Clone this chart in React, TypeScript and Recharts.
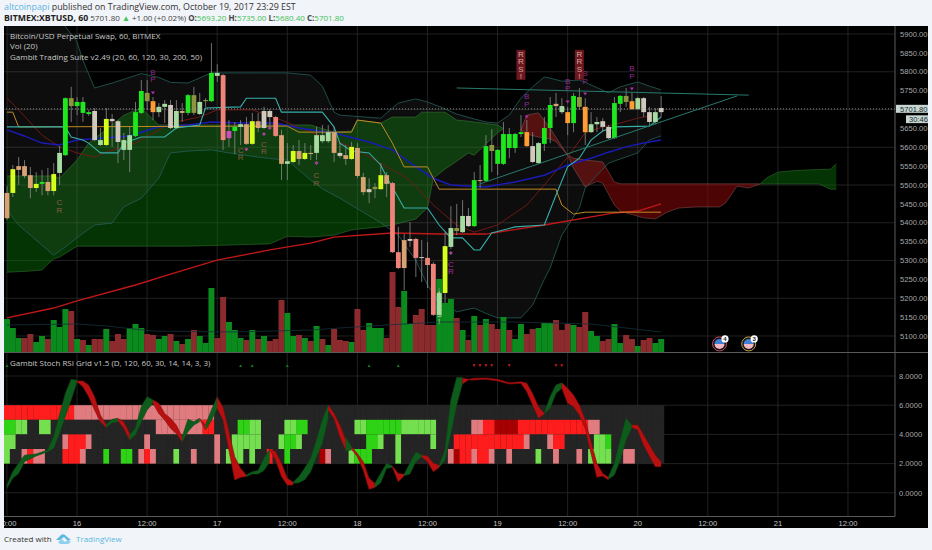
import { Area, Bar, CartesianGrid, ComposedChart, Line, ReferenceLine, XAxis, YAxis } from 'recharts';

// hours since Oct 16 00:00, one candle per hour
const hours = Array.from({ length: 152 }, (_, i) => i - 12);
const timeTicks = [-12, 0, 12, 24, 36, 48, 60, 72, 84, 96, 108, 120, 132];
const timeLabels = ['00:00', '16', '12:00', '17', '12:00', '18', '12:00', '19', '12:00', '20', '12:00', '21', '12:00'];
const priceTicks = [5100, 5150, 5200, 5250, 5300, 5350, 5400, 5450, 5500, 5550, 5600, 5650, 5700, 5750, 5800, 5850, 5900];
const lastPrice = 5701.8;
const stochTicks = [0, 2, 4, 6, 8];

const candleKinds = [
  'tan', 'yel', 'tan', 'tan', 'tan', 'yel', 'lime', 'tan', 'yel', 'pale',
  'lime', 'olive', 'lime', 'lime', 'lime', 'grey', 'pale', 'yel', 'grey', 'grey',
  'pale', 'pale', 'lime', 'lime', 'olive', 'orange', 'pale', 'pale', 'grey', 'pale',
  'tan', 'lime', 'olive', 'pale', 'olive', 'lime', 'pale', 'salmon', 'magenta', 'lime',
  'pale', 'tan', 'yel', 'tan', 'grey', 'grey', 'salmon', 'tan', 'pale', 'yel',
  'tan', 'yel', 'tan', 'pale', 'pale', 'pale', 'tan', 'grey', 'tan', 'yel',
  'tan', 'tan', 'grey', 'olive', 'yel', 'tan', 'salmon', 'salmon', 'tan', 'grey',
  'salmon', 'grey', 'salmon', 'salmon', 'pale', 'yel', 'pale', 'olive', 'pale', 'grey',
  'lime', 'tan', 'lime', 'olive', 'lime', 'lime', 'lime', 'lime', 'lime', 'orange',
  'grey', 'pale', 'lime', 'lime', 'tan', 'pale', 'orange', 'lime', 'olive', 'orange',
  'pale', 'pale', 'grey', 'grey', 'lime', 'lime', 'olive', 'orange', 'pale', 'grey',
  'grey', 'pale', 'grey',
];
const bodyTops = [
  5479, 5542, 5550, 5550, 5526, 5503, 5508, 5508, 5529, 5585,
  5730, 5730, 5720, 5720, 5693, 5696, 5619, 5675, 5675, 5669,
  5619, 5632, 5693, 5749, 5744, 5722, 5707, 5715, 5712, 5696,
  5696, 5738, 5738, 5720, 5725, 5797, 5797, 5791, 5643, 5654,
  5661, 5661, 5669, 5669, 5696, 5696, 5680, 5632, 5563, 5590,
  5590, 5585, 5585, 5632, 5632, 5640, 5640, 5585, 5579, 5601,
  5598, 5521, 5489, 5495, 5526, 5526, 5505, 5322, 5354, 5357,
  5357, 5309, 5307, 5291, 5214, 5338, 5386, 5386, 5418, 5418,
  5513, 5513, 5603, 5606, 5593, 5635, 5635, 5635, 5640, 5640,
  5603, 5611, 5651, 5712, 5715, 5709, 5693, 5736, 5733, 5707,
  5661, 5667, 5669, 5654, 5717, 5736, 5736, 5722, 5730, 5730,
  5693, 5693, 5704,
];
const bodyBottoms = [
  5412, 5479, 5540, 5524, 5492, 5492, 5503, 5484, 5484, 5532,
  5579, 5709, 5709, 5691, 5688, 5619, 5606, 5606, 5669, 5614,
  5593, 5593, 5630, 5691, 5722, 5693, 5693, 5707, 5651, 5651,
  5691, 5691, 5691, 5688, 5722, 5722, 5789, 5619, 5624, 5643,
  5654, 5609, 5609, 5651, 5651, 5680, 5630, 5556, 5556, 5561,
  5569, 5569, 5582, 5585, 5616, 5616, 5585, 5577, 5569, 5569,
  5524, 5481, 5481, 5489, 5489, 5503, 5322, 5280, 5280, 5352,
  5307, 5307, 5288, 5156, 5156, 5214, 5336, 5378, 5375, 5391,
  5391, 5511, 5511, 5590, 5556, 5556, 5598, 5598, 5635, 5603,
  5561, 5558, 5609, 5651, 5709, 5693, 5664, 5664, 5707, 5640,
  5640, 5661, 5654, 5624, 5624, 5715, 5720, 5701, 5701, 5693,
  5667, 5667, 5693,
];
const highs = [
  5497, 5553, 5574, 5566, 5548, 5534, 5540, 5545, 5558, 5603,
  5732, 5760, 5733, 5733, 5699, 5704, 5651, 5704, 5688, 5672,
  5638, 5654, 5720, 5778, 5778, 5733, 5717, 5725, 5725, 5725,
  5717, 5741, 5760, 5744, 5730, 5876, 5820, 5794, 5672, 5667,
  5672, 5680, 5691, 5691, 5707, 5701, 5683, 5646, 5611, 5606,
  5619, 5611, 5606, 5654, 5659, 5659, 5654, 5611, 5606, 5614,
  5611, 5532, 5518, 5505, 5558, 5534, 5508, 5389, 5370, 5402,
  5360, 5354, 5349, 5296, 5227, 5375, 5444, 5450, 5460, 5439,
  5534, 5553, 5632, 5648, 5595, 5667, 5651, 5638, 5685, 5672,
  5640, 5614, 5680, 5733, 5744, 5730, 5707, 5744, 5757, 5730,
  5693, 5680, 5677, 5659, 5733, 5738, 5757, 5744, 5733, 5733,
  5707, 5704, 5736,
];
const lows = [
  5407, 5468, 5500, 5518, 5465, 5481, 5473, 5473, 5473, 5500,
  5577, 5667, 5685, 5667, 5683, 5616, 5603, 5603, 5601, 5558,
  5566, 5534, 5627, 5688, 5699, 5672, 5680, 5664, 5648, 5648,
  5667, 5685, 5685, 5685, 5707, 5720, 5773, 5593, 5601, 5582,
  5606, 5606, 5606, 5640, 5648, 5654, 5627, 5513, 5513, 5558,
  5553, 5566, 5566, 5566, 5611, 5611, 5561, 5571, 5553, 5566,
  5518, 5473, 5452, 5465, 5487, 5468, 5320, 5277, 5222, 5336,
  5256, 5243, 5227, 5153, 5148, 5187, 5330, 5367, 5373, 5389,
  5389, 5492, 5508, 5534, 5526, 5553, 5571, 5585, 5627, 5601,
  5558, 5556, 5590, 5611, 5680, 5688, 5632, 5640, 5699, 5606,
  5638, 5640, 5640, 5622, 5622, 5693, 5707, 5699, 5699, 5680,
  5659, 5661, 5680,
];
const volumes = [
  33, 24, 14, 14, 18, 10, 16, 13, 32, 25,
  43, 41, 13, 12, 7, 13, 13, 23, 11, 18,
  13, 24, 28, 24, 18, 17, 13, 16, 18, 11,
  8, 13, 22, 16, 9, 64, 14, 55, 30, 22,
  14, 12, 22, 13, 16, 11, 13, 52, 39, 16,
  17, 14, 11, 26, 13, 7, 23, 12, 11, 10,
  43, 22, 29, 24, 24, 14, 80, 45, 61, 28,
  37, 43, 27, 27, 73, 49, 53, 34, 22, 12,
  36, 27, 33, 28, 23, 35, 22, 13, 28, 18,
  23, 24, 29, 29, 32, 22, 28, 27, 25, 40,
  21, 16, 11, 13, 28, 9, 17, 13, 6, 12,
  14, 9, 13,
];
const volumeSides = 'uuudduuduu' + 'udududdudd' + 'duuudduudu' + 'duduuudduu' + 'udududdduu' + 'dudududddu'
  + 'dduuuddduu' + 'dddduuudud' + 'ududduduud' + 'duuudddudd' + 'uudduuddud' + 'duu';

const volumeAverage = [[-12, 27], [0, 28], [5, 26], [13, 21], [27, 20], [40, 22], [50, 26], [62, 30], [75, 30], [88, 28], [100, 20]];

// ichimoku cloud: hour, upper, lower
const cloudGreenLeft = [
  [-12, 5524, 5269], [-8, 5524, 5272], [-6, 5524, 5275], [-5, 5524, 5291], [-4, 5524, 5304], [-3, 5518, 5309],
  [0, 5566, 5338], [2, 5611, 5338], [6, 5659, 5338], [8, 5685, 5338], [11, 5704, 5338], [14, 5659, 5338],
  [19, 5659, 5338], [33, 5659, 5344], [36, 5659, 5364], [40, 5659, 5362], [44, 5640, 5367], [47, 5643, 5381],
  [48, 5672, 5383], [52, 5664, 5389], [54, 5680, 5394], [58, 5680, 5410], [59, 5693, 5425], [60, 5693, 5439],
  [61, 5693, 5518], [63, 5693, 5542], [65, 5672, 5563], [67, 5669, 5585], [68, 5667, 5579], [72, 5659, 5638], [73, 5650, 5650],
];
const cloudRed = [
  [76, 5646, 5646], [77, 5685, 5635], [79, 5691, 5627], [81, 5651, 5622], [82, 5626, 5615], [84, 5579, 5579],
  [85, 5571, 5545], [87, 5566, 5495], [89, 5563, 5510], [90, 5561, 5505], [92, 5508, 5447], [93, 5503, 5431],
  [97, 5503, 5413], [99, 5503, 5410], [101, 5503, 5428], [103, 5503, 5439], [106, 5503, 5442], [110, 5503, 5442],
  [111, 5503, 5452], [113, 5503, 5497], [115, 5503, 5492], [117, 5503, 5503],
];
const cloudGreenRight = [
  [117, 5503, 5503], [118, 5518, 5503], [120, 5534, 5503], [122, 5537, 5503], [125, 5540, 5503], [127, 5541, 5503], [129, 5542, 5489], [130, 5556, 5489],
];
// bollinger band: hour, upper, lower
const bollinger = [
  [-12, 5950, 5434], [-10, 5950, 5394], [-4, 5950, 5314], [-2, 5920, 5336], [0, 5879, 5360], [1, 5831, 5372],
  [3, 5757, 5394], [6, 5770, 5399], [8, 5780, 5442], [11, 5795, 5465], [14, 5785, 5518], [16, 5772, 5585],
  [19, 5770, 5590], [23, 5797, 5593], [26, 5797, 5585], [31, 5797, 5574], [33, 5797, 5570], [36, 5797, 5566],
  [40, 5791, 5513], [42, 5762, 5490], [44, 5693, 5473], [45, 5685, 5465], [52, 5677, 5400], [55, 5717, 5367],
  [58, 5728, 5300], [60, 5720, 5235], [62, 5708, 5190], [65, 5688, 5164], [68, 5675, 5174], [70, 5667, 5160],
  [72, 5664, 5148], [74, 5685, 5148], [76, 5730, 5148], [78, 5760, 5182], [80, 5786, 5250], [81, 5783, 5280],
  [83, 5775, 5367], [86, 5778, 5439], [87, 5772, 5492], [91, 5744, 5558], [93, 5760, 5569], [96, 5773, 5585],
  [98, 5762, 5619], [100, 5752, 5630],
];
const cyanLine = [
  [-12, 5654], [-2, 5654], [-1, 5627], [1, 5619], [2, 5611], [4, 5585], [7, 5585], [8, 5611], [11, 5627], [15, 5627],
  [17, 5651], [21, 5659], [22, 5704], [28, 5707], [29, 5730], [34, 5730], [35, 5693], [42, 5693], [44, 5654], [45, 5611],
  [47, 5590], [50, 5585], [52, 5553], [53, 5521], [56, 5439], [60, 5439], [62, 5394], [64, 5360], [66, 5360], [68, 5328],
  [69, 5328], [71, 5373], [75, 5389], [80, 5394], [82, 5473], [84, 5548], [86, 5571], [88, 5619], [90, 5643], [92, 5654],
  [98, 5656], [100, 5680],
];
const orangeLine = [
  [-12, 5693], [-11, 5693], [-10, 5654], [36, 5656], [38, 5640], [47, 5640], [48, 5672], [52, 5664], [54, 5611], [56, 5548],
  [60, 5548], [61, 5518], [62, 5489], [82, 5489], [83, 5447], [85, 5423], [87, 5428], [100, 5428],
];
const blueLine = [
  [-12, 5646], [-9, 5630], [-6, 5611], [-3, 5606], [0, 5619], [4, 5624], [9, 5630], [14, 5654], [19, 5659], [23, 5667],
  [28, 5664], [34, 5664], [38, 5651], [44, 5638], [50, 5614], [54, 5593], [58, 5548], [61, 5518], [64, 5500], [70, 5495],
  [75, 5508], [80, 5526], [84, 5553], [88, 5571], [91, 5587], [94, 5601], [97, 5611], [100, 5619],
];
const darkRedLine = [
  [-12, 5730], [-10, 5699], [-6, 5632], [-3, 5601], [0, 5585], [3, 5574], [5, 5587], [10, 5611], [16, 5664], [21, 5680],
  [24, 5699], [30, 5699], [35, 5672], [40, 5640], [47, 5601], [54, 5540], [57, 5513], [61, 5447], [65, 5394], [68, 5375],
  [72, 5394], [77, 5447], [81, 5518], [84, 5574], [87, 5638], [90, 5654], [93, 5664], [96, 5677], [99, 5685],
];
const redLine = [
  [-12, 5148], [-4, 5174], [0, 5193], [10, 5235], [16, 5264], [24, 5301], [33, 5328], [40, 5346], [44, 5362], [54, 5373],
  [62, 5370], [70, 5370], [80, 5394], [92, 5426], [96, 5431], [100, 5450],
];
const trendTop = [[65, 5757], [115, 5738]];
const trendRising = [[69, 5503], [113, 5736]];

const bpSignals = [[13, 5744], [77, 5680], [84, 5720], [87, 5741], [95, 5754]];
const crSignals = [[-3, 5447], [28, 5585], [32, 5601], [41, 5518]];
const crStrong = [[64, 5283]];
const smallMarks = [[29, 5595], [32, 5635], [33, 5651], [41, 5558], [64, 5320]];
const rrsiRed = [[76, 5858], [86, 5858]];
const rrsiGreen = [[62, 5216]];
const eventsRed = [[110, 5079]];
const eventsGold = [[115, 5079]];

// stoch grid, one char per hour from -12 to 100
const gridRow1 = 'rrrrrrrrrrrr' + 'pppppppppppppppppppppppp' + '.'.repeat(77);
const gridRow2 = 'ggll..ll' + '..................' + 'pppppppp' + 'rr' + '....' + 'ggll' + '....' + 'llgg' + '........' + 'llggggggllllll' + '......' + 'pprrdddd' + 'rrrrrrrrrrrr' + 'pp' + '...........';
const gridRow3 = 'll........' + 'p' + 'rrr' + 'p' + '.........' + 'p' + '...........' + 'p' + '..' + 'lllll' + '...' + 'lggl' + '...........' + 'ggl..l' + '.....' + 'l' + '...' + 'rrrrrrrrrrrr' + 'p' + '...' + 'p' + 'rr' + '.....' + 'llg' + '.........';
const gridRow4 = 'l..prpp...rrrp...g..gg.prp...l..p...p.lll.l..r..g.....dp...lggg....l........pdrrprrp..p....l..p...p.llll..pp.....';

// stoch ribbon pieces: hour, upper, lower. Colours alternate, green first.
const ribbonPieces = [
  [[-12, 0.53, 0.31], [-11, 1.45, 1.0], [-10, 2.02, 1.33], [-9, 2.57, 2.13], [-7, 2.66, 2.52], [-5, 2.93, 2.82], [-4, 3.84, 3.05], [-3, 5.33, 4.07], [-2, 6.81, 5.22], [-1, 7.77, 6.36], [0, 7.71, 7.61]],
  [[0, 7.66, 7.61], [1, 7.66, 7.27], [2, 7.38, 6.58], [3, 6.58, 5.67], [4, 5.33, 4.87], [5, 4.64, 4.48]],
  [[5, 4.64, 4.48], [6, 5.03, 4.8], [7, 5.1, 4.87]],
  [[7, 5.1, 4.94], [8, 4.87, 4.42], [9, 4.07, 3.62]],
  [[9, 3.96, 3.62], [10, 4.42, 3.96], [11, 5.9, 4.87], [12, 6.58, 5.67], [13, 6.36, 6.13]],
  [[13, 6.36, 6.13], [14, 6.13, 5.44], [15, 5.44, 4.99], [16, 5.1, 4.42], [17, 4.64, 4.07], [18, 3.84, 3.5]],
  [[18, 3.84, 3.5], [19, 5.03, 4.19], [20, 4.87, 4.64], [21, 5.1, 4.87]],
  [[21, 5.1, 5.03], [22, 4.64, 4.3]],
  [[22, 4.64, 4.3], [23, 5.67, 4.94], [24, 6.58, 5.79]],
  [[24, 6.58, 5.79], [25, 5.85, 4.99], [26, 4.19, 2.93], [27, 2.47, 0.88], [28, 1.67, 1.06], [29, 1.22, 1.11]],
  [[29, 1.22, 1.11], [30, 1.45, 1.29], [31, 1.52, 1.29], [32, 2.36, 1.52], [33, 2.98, 2.13]],
  [[33, 2.98, 2.93], [34, 2.82, 2.25], [35, 2.02, 1.11], [36, 1.0, 0.53], [37, 0.72, 0.53]],
  [[37, 0.72, 0.65], [38, 1.11, 0.69], [39, 1.7, 0.9], [40, 2.36, 1.45], [41, 3.62, 2.47], [42, 4.99, 3.39], [43, 6.01, 5.1]],
  [[43, 6.01, 5.67], [44, 5.44, 5.1], [45, 4.64, 3.84], [46, 3.62, 2.93]],
  [[46, 3.8, 2.86], [47, 3.16, 2.93]],
  [[47, 3.16, 2.98], [48, 2.7, 2.47], [49, 2.13, 1.56], [50, 1.0, 0.24], [51, 0.65, 0.37]],
  [[51, 0.65, 0.37], [52, 1.33, 0.69], [53, 2.02, 1.67], [54, 1.84, 1.74]],
  [[54, 1.84, 1.74], [55, 1.33, 0.76], [56, 1.27, 1.17]],
  [[56, 1.27, 1.17], [57, 2.02, 1.29], [58, 2.8, 2.13], [59, 2.59, 2.47]],
  [[59, 2.57, 2.47], [60, 2.52, 2.13], [61, 2.02, 1.45], [62, 1.91, 1.74]],
  [[62, 1.91, 1.74], [63, 2.93, 2.25], [64, 6.36, 4.07], [65, 7.9, 6.01], [66, 7.9, 7.5]],
  [[66, 7.87, 7.45], [67, 7.77, 7.73], [68, 7.84, 7.73], [70, 7.87, 7.77], [72, 7.77, 7.66], [74, 7.54, 7.45], [76, 7.61, 7.5], [77, 7.5, 6.93], [78, 6.81, 6.01], [79, 5.9, 5.1], [80, 5.44, 5.4]],
  [[80, 5.44, 5.4], [81, 6.58, 5.79], [82, 7.38, 6.81], [83, 7.54, 7.16]],
  [[83, 7.54, 7.16], [84, 7.16, 6.13], [85, 6.7, 5.9], [86, 6.01, 5.33], [87, 4.99, 4.42], [88, 3.5, 2.7], [89, 2.02, 1.06], [90, 1.33, 1.15], [91, 1.06, 0.88]],
  [[91, 1.11, 0.92], [92, 2.02, 1.22], [93, 3.62, 2.25], [94, 5.1, 3.62], [95, 4.64, 4.48]],
  [[95, 4.64, 4.48], [96, 4.64, 4.3], [97, 3.96, 3.27], [98, 3.27, 2.52], [99, 2.59, 1.79], [100, 2.13, 1.79]],
];
const stochUp = [[-12, 8.71], [28, 8.71], [30, 8.71], [36, 8.71], [50, 8.71], [55, 8.71]];
const stochDown = [[68, 8.71], [69, 8.71], [70, 8.71], [71, 8.71], [74, 8.71], [82, 8.71], [83, 8.71]];

const candleColors = {
  tan: '#d8a274', yel: '#d6ff1c', lime: '#1de81d', pale: '#a6dca0', grey: '#cfcabb', olive: '#8e9440',
  orange: '#ff9c33', salmon: '#ee8479', magenta: '#c850bc',
};
const gridColors = { '.': '#242424', p: '#e07c80', r: '#ff1c1c', d: '#a80000', g: '#2fd315', l: '#74e050' };

const table = hours.map((hour, i) => {
  const row: any = { hour };
  if (i < candleKinds.length) {
    row.kind = candleKinds[i];
    row.top = bodyTops[i];
    row.bottom = bodyBottoms[i];
    row.range = [lows[i], highs[i]];
    row.volume = volumes[i];
    row.side = volumeSides[i];
    row.cells = [gridRow1[i], gridRow2[i], gridRow3[i], gridRow4[i]];
    row.gridBand = [2, 6];
  }
  return row;
});
const putLine = (key: string, pairs: number[][]) => pairs.forEach(([h, v]) => { table[h + 12][key] = v; });
const putBand = (key: string, rows: number[][]) => rows.forEach(([h, hi, lo]) => { table[h + 12][key] = [lo, hi]; });

putBand('cloudA', cloudGreenLeft);
putBand('cloudB', cloudRed);
putBand('cloudC', cloudGreenRight);
putBand('boll', bollinger);
putLine('cyan', cyanLine);
putLine('orange', orangeLine);
putLine('blue', blueLine);
putLine('darkRed', darkRedLine);
putLine('red', redLine);
putLine('volAvg', volumeAverage);
putLine('trendTop', trendTop);
putLine('trendRising', trendRising);
putLine('bp', bpSignals);
putLine('cr', crSignals);
putLine('crStrong', crStrong);
putLine('marks', smallMarks);
putLine('rrsiRed', rrsiRed);
putLine('rrsiGreen', rrsiGreen);
putLine('eventRed', eventsRed);
putLine('eventGold', eventsGold);
putLine('stochUp', stochUp);
putLine('stochDown', stochDown);
ribbonPieces.forEach((piece, i) => putBand('rib' + i, piece));

const FONT = '"Liberation Sans", Arial, sans-serif';
const AXIS_W = 33;
const xProps: any = {
  dataKey: 'hour', type: 'category', scale: 'band', ticks: timeTicks, interval: 0,
  padding: { left: 0, right: 3.2 }, allowDuplicatedCategory: false,
};

function CandleShape(props: any) {
  const { x, y, width, height, payload } = props;
  if (!payload.kind) return null;
  const [low, high] = payload.range;
  const perUnit = Math.abs(height) / (high - low);
  const yTop = y + (high - payload.top) * perUnit;
  const h = Math.max((payload.top - payload.bottom) * perUnit, 1);
  const mid = x + width / 2;
  const fill = candleColors[payload.kind];
  return (
    <g>
      <line x1={mid} x2={mid} y1={y} y2={y + Math.abs(height)} stroke="#8c8c8c" strokeWidth={0.8} />
      <rect x={x + 0.6} y={yTop} width={width - 1.2} height={h} fill={fill} />
    </g>
  );
}

function VolumeShape(props: any) {
  const { x, y, width, height, payload } = props;
  return <rect x={x} y={y} width={width} height={height} fill={payload.side === 'u' ? '#0b8a1e' : '#8c2b2e'} />;
}

function GridCells(props: any) {
  const { x, y, width, height, payload } = props;
  if (!payload.cells) return null;
  const rowH = height / 4;
  return (
    <g>
      {payload.cells.map((c: string, i: number) => (
        <rect key={i} x={x} y={y + i * rowH} width={width} height={rowH} fill={gridColors[c] || gridColors['.']} stroke="#ffffff" strokeOpacity={0.04} strokeWidth={0.4} />
      ))}
    </g>
  );
}

const letters = (text: string, cx: number, startY: number, step: number, fill: string) =>
  text.split('').map((ch, i) => (
    <text key={i} x={cx} y={startY + i * step} fill={fill} fontSize={8} fontFamily={FONT} textAnchor="middle">{ch}</text>
  ));

const dotOf = (draw: (cx: number, cy: number) => any) => (p: any) => {
  if (p.cy == null || p.value == null) return <g key={p.index} />;
  return <g key={p.index}>{draw(p.cx, p.cy)}</g>;
};

const bpDot = dotOf((cx, cy) => (
  <>
    <polygon points={`${cx - 2},${cy - 1.5} ${cx + 2},${cy - 1.5} ${cx},${cy + 1.5}`} fill="#b42cb0" />
    {letters('BP', cx, cy - 18, 7.5, '#8e2a90')}
  </>
));
const crDot = dotOf((cx, cy) => letters('CR', cx, cy, 7.5, '#8a5c46'));
const crStrongDot = dotOf((cx, cy) => letters('CR', cx, cy, 7.5, '#a82aa0'));
const markDot = dotOf((cx, cy) => <polygon points={`${cx},${cy - 2} ${cx + 2},${cy} ${cx},${cy + 2} ${cx - 2},${cy}`} fill="#a8409c" />);
const rrsiRedDot = dotOf((cx, cy) => (
  <>
    <rect x={cx - 4.5} y={cy} width={9} height={30} fill="#6c181e" />
    {letters('RRS!', cx, cy + 7, 7.4, '#d8a4a0')}
  </>
));
const rrsiGreenDot = dotOf((cx, cy) => (
  <>
    <polygon points={`${cx - 2},${cy + 2} ${cx + 2},${cy + 2} ${cx},${cy - 1}`} fill="#b8c890" />
    {letters('RRS!', cx, cy + 10, 7.4, '#a8d89c')}
  </>
));
const eventDot = (ring: string, count: string) => dotOf((cx, cy) => (
  <>
    <circle cx={cx} cy={cy} r={7} fill="#15151f" stroke={ring} strokeWidth={1} />
    <path d={`M${cx - 5},${cy} A5,5 0 0 1 ${cx + 5},${cy} Z`} fill="#3f7fd8" />
    <path d={`M${cx - 5},${cy} A5,5 0 0 0 ${cx + 5},${cy} Z`} fill="#f0b8c0" />
    <circle cx={cx + 5.5} cy={cy - 5} r={3.6} fill="#ffffff" />
    <text x={cx + 5.5} y={cy - 2.8} fontSize={6} fontFamily={FONT} fontWeight={700} fill="#222" textAnchor="middle">{count}</text>
  </>
));
const upDot = dotOf((cx, cy) => <polygon points={`${cx - 1.5},${cy + 1.3} ${cx + 1.5},${cy + 1.3} ${cx},${cy - 1.3}`} fill="#0f7d1c" />);
const downDot = dotOf((cx, cy) => <polygon points={`${cx - 1.5},${cy - 1.3} ${cx + 1.5},${cy - 1.3} ${cx},${cy + 1.3}`} fill="#d01c1c" />);

function PriceTick(props: any) {
  const { x, y, payload } = props;
  if (payload.value === lastPrice) {
    return (
      <g>
        <rect x={x + 1} y={y - 4} width={32} height={8} fill="#c6d6d4" />
        <text x={x + 5} y={y + 2.7} fontSize={7.6} fontFamily={FONT} fill="#1a2a2a">5701.80</text>
        <rect x={x + 11} y={y + 6.5} width={22} height={7.8} fill="#c6d6d4" />
        <text x={x + 14} y={y + 13} fontSize={7.6} fontFamily={FONT} fill="#1a2a2a">30:46</text>
      </g>
    );
  }
  return <text x={x + 5} y={y + 2.7} fontSize={7.6} fontFamily={FONT} fill="#a8a8a8">{payload.value.toFixed(2)}</text>;
}

function TimeTick(props: any) {
  const { x, y, payload } = props;
  const label = timeLabels[timeTicks.indexOf(payload.value)];
  return <text x={x} y={y + 9} fontSize={7.6} fontFamily={FONT} fill="#c4c4c4" textAnchor="middle">{label}</text>;
}

const layer: any = { position: 'absolute', left: 0, top: 0 };
const PRICE_DOMAIN = [5057.6, 5921.2];
const STOCH_DOMAIN = [-1.623, 9.576];

const legendStyle: any = { position: 'absolute', left: 6, color: '#c8c8c8', fontSize: 8, fontFamily: '"Open Sans", sans-serif', whiteSpace: 'nowrap', lineHeight: '10px' };
const greenText = { color: '#3fc256' };

export default function App() {
  return (
    <div style={{ position: 'absolute', left: 0, top: 0, width: 932, height: 550, background: '#f1f4f8', overflow: 'hidden', fontFamily: '"Open Sans", sans-serif' }}>
      <div style={{ position: 'absolute', left: 4, top: 2, fontSize: 8.85, color: '#333', whiteSpace: 'nowrap', lineHeight: '10px' }}>
        <span style={{ color: '#5db4e4' }}>altcoinpapi</span> published on TradingView.com, October 19, 2017 23:29 EST
      </div>
      <div style={{ position: 'absolute', left: 4, top: 13, fontSize: 8, color: '#444', whiteSpace: 'nowrap', lineHeight: '10px' }}>
        <b style={{ fontSize: 8.7, color: '#222' }}>BITMEX:XBTUSD, 60</b> 5701.80 <span style={greenText}>▲</span> +1.00 (+0.02%) <b>O:</b><span style={greenText}>5693.20</span> <b>H:</b><span style={greenText}>5735.00</span> <b>L:</b><span style={greenText}>5680.40</span> <b>C:</b><span style={greenText}>5701.80</span>
      </div>

      <div style={{ position: 'absolute', left: 4, top: 26, width: 924, height: 502, background: '#000', overflow: 'hidden' }}>
        {/* price panel, back layer: grid, cloud, bands, volume, averages */}
        <div style={layer}>
          <ComposedChart width={924} height={326} data={table} margin={{ top: 0, right: AXIS_W, bottom: 0, left: 0 }} barCategoryGap={0}>
            <CartesianGrid stroke="#2a2a2a" strokeWidth={0.8} syncWithTicks />
            <XAxis {...xProps} hide />
            <YAxis hide domain={PRICE_DOMAIN} ticks={priceTicks} allowDataOverflow />
            <YAxis hide yAxisId="vol" domain={[0, 326]} />
            <Area dataKey="cloudA" connectNulls stroke="#2f6f2f" strokeWidth={0.6} fill="#0a7a0a" fillOpacity={0.42} isAnimationActive={false} dot={false} activeDot={false} />
            <Area dataKey="cloudB" connectNulls stroke="#7a4a4a" strokeWidth={0.6} fill="#8a0808" fillOpacity={0.55} isAnimationActive={false} dot={false} activeDot={false} />
            <Area dataKey="cloudC" connectNulls stroke="#2f6f2f" strokeWidth={0.6} fill="#0a7a0a" fillOpacity={0.42} isAnimationActive={false} dot={false} activeDot={false} />
            <Area dataKey="boll" connectNulls stroke="#25605a" strokeWidth={0.8} fill="#ffffff" fillOpacity={0.05} isAnimationActive={false} dot={false} activeDot={false} />
            <Bar dataKey="volume" yAxisId="vol" shape={VolumeShape} isAnimationActive={false} />
            <Line dataKey="volAvg" yAxisId="vol" connectNulls stroke="#15303c" strokeWidth={0.8} dot={false} activeDot={false} isAnimationActive={false} />
            <Line dataKey="darkRed" connectNulls stroke="#6e1a16" strokeWidth={1} dot={false} activeDot={false} isAnimationActive={false} />
            <Line dataKey="red" connectNulls stroke="#c01818" strokeWidth={1.4} dot={false} activeDot={false} isAnimationActive={false} />
            <Line dataKey="blue" connectNulls stroke="#1a1ab4" strokeWidth={1.5} dot={false} activeDot={false} isAnimationActive={false} />
            <Line dataKey="orange" connectNulls stroke="#c08a24" strokeWidth={1} dot={false} activeDot={false} isAnimationActive={false} />
            <Line dataKey="cyan" connectNulls stroke="#36aeaa" strokeWidth={1.1} dot={false} activeDot={false} isAnimationActive={false} />
          </ComposedChart>
        </div>
        {/* price panel, front layer: candles, trend lines, signals */}
        <div style={layer}>
          <ComposedChart width={924} height={326} data={table} margin={{ top: 0, right: 0, bottom: 0, left: 0 }} barCategoryGap={0}>
            <XAxis {...xProps} hide />
            <YAxis orientation="right" width={AXIS_W} domain={PRICE_DOMAIN} ticks={[...priceTicks, lastPrice]} interval={0} allowDataOverflow stroke="#5a5a5a" tickLine={false} tickSize={0} tickMargin={0} tick={PriceTick} />
            <ReferenceLine y={lastPrice} stroke="#a0a0a0" strokeWidth={0.8} strokeDasharray="1 2" />
            <Bar dataKey="range" shape={CandleShape} isAnimationActive={false} />
            <Line dataKey="trendTop" connectNulls stroke="#287a6e" strokeWidth={1} dot={false} activeDot={false} isAnimationActive={false} />
            <Line dataKey="trendRising" connectNulls stroke="#287a6e" strokeWidth={1} dot={false} activeDot={false} isAnimationActive={false} />
            <Line dataKey="bp" stroke="none" dot={bpDot} activeDot={false} isAnimationActive={false} />
            <Line dataKey="cr" stroke="none" dot={crDot} activeDot={false} isAnimationActive={false} />
            <Line dataKey="crStrong" stroke="none" dot={crStrongDot} activeDot={false} isAnimationActive={false} />
            <Line dataKey="marks" stroke="none" dot={markDot} activeDot={false} isAnimationActive={false} />
            <Line dataKey="rrsiRed" stroke="none" dot={rrsiRedDot} activeDot={false} isAnimationActive={false} />
            <Line dataKey="rrsiGreen" stroke="none" dot={rrsiGreenDot} activeDot={false} isAnimationActive={false} />
            <Line dataKey="eventRed" stroke="none" dot={eventDot('#c8485c', '4')} activeDot={false} isAnimationActive={false} />
            <Line dataKey="eventGold" stroke="none" dot={eventDot('#c8a03c', '3')} activeDot={false} isAnimationActive={false} />
          </ComposedChart>
        </div>

        <div style={{ ...legendStyle, top: 5 }}>Bitcoin/USD Perpetual Swap, 60, BITMEX</div>
        <div style={{ ...legendStyle, top: 15 }}>Vol (20)</div>
        <div style={{ ...legendStyle, top: 25.5 }}>Gambit Trading Suite v2.49 (20, 60, 120, 30, 200, 50)</div>

        <div style={{ position: 'absolute', left: 0, top: 326, width: 924, height: 1, background: '#5a5a5a' }} />

        {/* stoch panel */}
        <div style={{ ...layer, top: 327 }}>
          <ComposedChart width={924} height={175} data={table} margin={{ top: 0, right: 0, bottom: 0, left: 0 }} barCategoryGap={0}>
            <CartesianGrid stroke="#2a2a2a" strokeWidth={0.8} syncWithTicks />
            <XAxis {...xProps} height={11.5} stroke="#5a5a5a" tickLine={false} tickSize={0} tickMargin={0} tick={TimeTick} />
            <YAxis orientation="right" width={AXIS_W} domain={STOCH_DOMAIN} ticks={stochTicks} interval={0} allowDataOverflow stroke="#5a5a5a" tickLine={false} tickSize={0} tickMargin={4}
              tick={{ fontSize: 7.6, fontFamily: FONT, fill: '#a8a8a8' }} tickFormatter={(v: number) => v.toFixed(4)} />
            <Bar dataKey="gridBand" shape={GridCells} isAnimationActive={false} />
          </ComposedChart>
        </div>
        <div style={{ ...layer, top: 327 }}>
          <ComposedChart width={924} height={175} data={table} margin={{ top: 0, right: AXIS_W, bottom: 11.5, left: 0 }}>
            <XAxis {...xProps} hide />
            <YAxis hide domain={STOCH_DOMAIN} allowDataOverflow />
            {ribbonPieces.map((_, i) => (
              <Area key={i} dataKey={'rib' + i} connectNulls stroke={i % 2 ? '#8a0c0c' : '#0c4a16'} strokeWidth={0.6} fill={i % 2 ? '#b81010' : '#0e5c1c'} fillOpacity={1} isAnimationActive={false} dot={false} activeDot={false} />
            ))}
            <Line dataKey="stochUp" stroke="none" dot={upDot} activeDot={false} isAnimationActive={false} />
            <Line dataKey="stochDown" stroke="none" dot={downDot} activeDot={false} isAnimationActive={false} />
          </ComposedChart>
        </div>
        <div style={{ ...legendStyle, top: 332 }}>Gambit Stoch RSI Grid v1.5 (D, 120, 60, 30, 14, 14, 3, 3)</div>
      </div>

      <div style={{ position: 'absolute', left: 4, top: 534, fontSize: 8, color: '#333', whiteSpace: 'nowrap', lineHeight: '10px' }}>Created with</div>
      <svg style={{ position: 'absolute', left: 56, top: 533 }} width={16} height={12}>
        <path d="M0,7 L5,2 Q8,0 10,3 L15,7 L11,7 L8,4 L4,7 Z" fill="#5cb8e0" />
        <path d="M2,9 L6,6 L9,9 L12,6.5 L15,9 L12,11 L4,11 Z" fill="#8fd0ec" />
      </svg>
      <div style={{ position: 'absolute', left: 76, top: 534, fontSize: 8, color: '#5cb8e0', whiteSpace: 'nowrap', lineHeight: '10px' }}>TradingView</div>
    </div>
  );
}
